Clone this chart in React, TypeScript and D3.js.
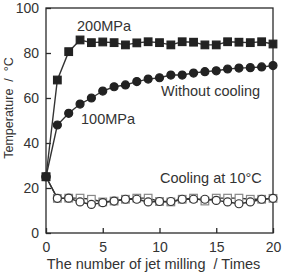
import { useEffect, useRef } from "react";
import * as d3 from "d3";

// jet milling passes 0..20
const passes = d3.range(0, 21);

// temperatures (°C)
const p200 = [25, 68, 80.6, 85.8, 84.6, 84.9, 84.6, 83.6, 84.5, 85, 84.6, 83.6, 85, 84.8, 83.6, 83.6, 85, 84.8, 84.6, 85, 84];
const p100 = [25, 48, 53.2, 57.3, 60, 63.1, 65, 65.8, 67.3, 68.4, 69, 70.2, 70.2, 71.1, 71.7, 72.1, 72.9, 73.3, 73.5, 73.8, 74.4];
const coolSq = [25, 15.4, 15.5, 15.5, 15, 13.8, 14.2, 15, 15.5, 15.5, 14, 13.8, 15, 15.5, 14.2, 15.5, 15.5, 15.5, 15, 15, 15.4];
const coolCi = [25, 15.4, 15.5, 13.8, 12.7, 13.5, 14.2, 15, 15, 13.8, 14, 14, 15, 15, 15, 14.5, 13.8, 13, 13.8, 15, 15.4];

const xTicks = [0, 5, 10, 15, 20];
const yTicks = [0, 20, 40, 60, 80, 100];

const W = 288;
const H = 272;
const margin = { top: 8, right: 15, bottom: 39, left: 46 };
const font = "'Liberation Sans', Arial, sans-serif";

export default function App() {
  const ref = useRef<SVGSVGElement>(null);

  useEffect(() => {
    if (!ref.current) return;
    const svg = d3.select(ref.current);
    svg.selectAll("*").remove();

    const x = d3.scaleLinear().domain([0, 20]).range([margin.left, W - margin.right]);
    const y = d3.scaleLinear().domain([0, 100]).range([H - margin.bottom, margin.top]);

    const g = svg.append("g");

    // frame
    g.append("rect")
      .attr("x", x(0)).attr("y", y(100))
      .attr("width", x(20) - x(0)).attr("height", y(0) - y(100))
      .attr("fill", "none").attr("stroke", "#2a2a2a").attr("stroke-width", 1.3);

    // axes with inward ticks
    g.append("g")
      .attr("transform", `translate(0,${y(0)})`)
      .call(d3.axisBottom(x).tickValues(xTicks).tickSize(-5).tickPadding(9).tickSizeOuter(0))
      .call(a => a.select(".domain").remove())
      .call(a => a.selectAll("line").attr("stroke", "#2a2a2a").attr("stroke-width", 1.3))
      .call(a => a.selectAll("text").attr("font-family", font).attr("font-size", 14).attr("fill", "#333"));

    g.append("g")
      .attr("transform", `translate(${x(0)},0)`)
      .call(d3.axisLeft(y).tickValues(yTicks).tickSize(-5).tickPadding(7).tickSizeOuter(0))
      .call(a => a.select(".domain").remove())
      .call(a => a.selectAll("line").attr("stroke", "#2a2a2a").attr("stroke-width", 1.3))
      .call(a => a.selectAll("text").attr("font-family", font).attr("font-size", 14).attr("fill", "#333"));

    const line = d3.line<number>().x((_, i) => x(passes[i])).y(d => y(d));

    const drawLine = (vals: number[]) =>
      g.append("path").attr("d", line(vals)).attr("fill", "none")
        .attr("stroke", "#333").attr("stroke-width", 1.4);

    [coolSq, coolCi, p100, p200].forEach(drawLine);

    const squares = (vals: number[], fill: string, stroke: string) =>
      g.append("g").selectAll("rect").data(vals).join("rect")
        .attr("x", (_, i) => x(passes[i]) - 3.8).attr("y", d => y(d) - 3.8)
        .attr("width", 7.6).attr("height", 7.6)
        .attr("fill", fill).attr("stroke", stroke).attr("stroke-width", 1.2);

    const circles = (vals: number[], fill: string, stroke: string) =>
      g.append("g").selectAll("circle").data(vals).join("circle")
        .attr("cx", (_, i) => x(passes[i])).attr("cy", d => y(d)).attr("r", 4)
        .attr("fill", fill).attr("stroke", stroke).attr("stroke-width", 1.2);

    squares(coolSq, "#fff", "#888");
    circles(coolCi, "#fff", "#333");
    circles(p100, "#222", "#222");
    squares(p200, "#222", "#222");

    // labels
    const label = (t: string, lx: number, ly: number) =>
      g.append("text").attr("x", lx).attr("y", ly).attr("font-family", font)
        .attr("font-size", 14.5).attr("fill", "#333").text(t);

    label("200MPa", 77, 31);
    label("Without cooling", 161, 96);
    label("100MPa", 81, 124);
    label("Cooling at 10\u00B0C", 160, 183);

    g.append("text")
      .attr("transform", `translate(13,108) rotate(-90)`)
      .attr("text-anchor", "middle").attr("font-family", font).attr("font-size", 12.5)
      .attr("fill", "#333").style("white-space", "pre").text("Temperature  /  \u00B0C");

    g.append("text")
      .attr("x", 153.5).attr("y", 269).attr("text-anchor", "middle")
      .attr("font-family", font).attr("font-size", 14.5).attr("fill", "#333")
      .style("white-space", "pre")
      .text("The number of jet milling  / Times");
  }, []);

  return (
    <svg ref={ref} width={W} height={H} style={{ position: "absolute", left: 0, top: 0, background: "#fff" }} />
  );
}
